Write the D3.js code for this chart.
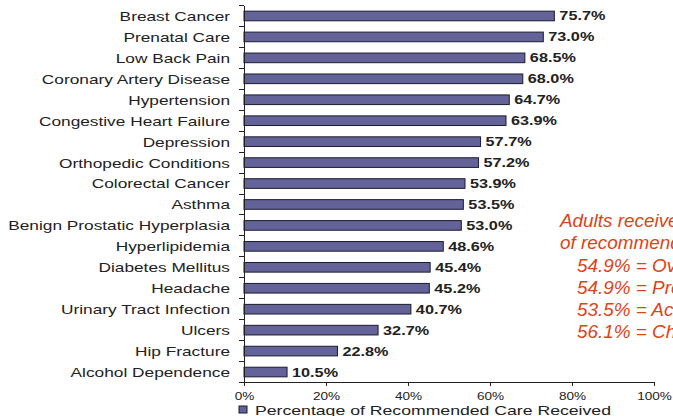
<!DOCTYPE html>
<html>
<head>
<meta charset="utf-8">
<script src="https://cdn.jsdelivr.net/npm/d3@7"></script>
<style>
  html, body { margin: 0; padding: 0; background: #ffffff; overflow: hidden; }
  svg { display: block; font-family: "Liberation Sans", Arial, sans-serif; }
</style>
</head>
<body>
<svg id="chart" width="673" height="416"></svg>
<script>
// Conditions, ordered top to bottom
const categories = [
  "Breast Cancer", "Prenatal Care", "Low Back Pain", "Coronary Artery Disease",
  "Hypertension", "Congestive Heart Failure", "Depression", "Orthopedic Conditions",
  "Colorectal Cancer", "Asthma", "Benign Prostatic Hyperplasia", "Hyperlipidemia",
  "Diabetes Mellitus", "Headache", "Urinary Tract Infection", "Ulcers",
  "Hip Fracture", "Alcohol Dependence"
];
// Percentage of recommended care received
const values = [75.7, 73.0, 68.5, 68.0, 64.7, 63.9, 57.7, 57.2, 53.9, 53.5, 53.0,
                48.6, 45.4, 45.2, 40.7, 32.7, 22.8, 10.5];
const xTickValues = [0, 20, 40, 60, 80, 100];
const seriesName = "Percentage of Recommended Care Received";
const noteLines = [
  "Adults receive about half",
  "of recommended care:",
  "54.9% = Overall",
  "54.9% = Preventive care",
  "53.5% = Acute care",
  "56.1% = Chronic care"
];

const SX = 1.33;            // horizontal text stretch of the chart labels
const barFill = "#636399";
const barStroke = "#1b1b2e";
const textColor = "#222222";
const noteColor = "#da4417";

const svg = d3.select("#chart");
const plotLeft = 244, plotRight = 654, plotTop = 5, plotBottom = 382;

const x = d3.scaleLinear().domain([0, 100]).range([plotLeft, plotRight]);
const y = d3.scaleBand().domain(categories).range([plotTop, plotBottom]).paddingInner(0.54).paddingOuter(0.27);
const yEdges = d3.scaleLinear().domain([0, categories.length]).range([plotTop, plotBottom]);
const rows = categories.map((c, i) => ({ c, v: values[i] }));

// Bars
svg.append("g").selectAll("rect")
  .data(rows)
  .join("rect")
  .attr("x", x(0))
  .attr("y", d => y(d.c) + 0.5)
  .attr("width", d => x(d.v) - x(0))
  .attr("height", y.bandwidth())
  .attr("fill", barFill)
  .attr("stroke", barStroke)
  .attr("stroke-width", 1);

// Value labels
svg.append("g").selectAll("text")
  .data(rows)
  .join("text")
  .attr("transform", d => `translate(${x(d.v) + 5},${y(d.c) + y.bandwidth() / 2 + 0.5}) scale(${SX - 0.03},1)`)
  .attr("dy", "0.36em")
  .attr("font-size", 12.5)
  .attr("font-weight", "bold")
  .attr("fill", textColor)
  .text(d => d.v.toFixed(1) + "%");

// Y axis: line and tick marks at band edges
const yAxisG = svg.append("g")
  .attr("transform", `translate(${plotLeft},0)`)
  .call(d3.axisLeft(yEdges).tickValues(d3.range(categories.length + 1)).tickFormat("").tickSize(5).tickSizeOuter(0));
yAxisG.selectAll("line, path").attr("stroke", "#222").attr("shape-rendering", "crispEdges");

// Y axis: category labels
const yLabelG = svg.append("g")
  .attr("transform", `translate(${plotLeft},0)`)
  .call(d3.axisLeft(y).tickSize(0).tickPadding(14));
yLabelG.select(".domain").remove();
yLabelG.selectAll("text")
  .attr("font-size", 13)
  .attr("font-family", "'Liberation Sans', Arial, sans-serif")
  .attr("fill", textColor)
  .attr("x", -14 / SX)
  .attr("dy", "0.42em")
  .attr("transform", `scale(${SX},1)`);

// X axis
const xAxisG = svg.append("g")
  .attr("transform", `translate(0,${plotBottom})`)
  .call(d3.axisBottom(x).tickValues(xTickValues).tickFormat(d => d + "%").tickSize(4).tickSizeOuter(0).tickPadding(7));
xAxisG.selectAll("line, path").attr("stroke", "#222").attr("shape-rendering", "crispEdges");
xAxisG.selectAll("text")
  .attr("font-size", 10.2)
  .attr("font-family", "'Liberation Sans', Arial, sans-serif")
  .attr("fill", textColor)
  .each(function () {
    const t = d3.select(this);
    const yy = +t.attr("y");
    t.attr("y", null).attr("transform", `translate(0,${yy}) scale(${SX},1)`);
  });

// Legend
const legend = svg.append("g").attr("transform", "translate(239,406)");
legend.append("rect")
  .attr("width", 8).attr("height", 7)
  .attr("fill", barFill).attr("stroke", barStroke).attr("stroke-width", 1);
legend.append("text")
  .attr("transform", "translate(16,8.5) scale(1.38,1)")
  .attr("font-size", 12.8)
  .attr("fill", textColor)
  .text(seriesName);

// Summary note
const note = svg.append("g").attr("fill", noteColor).attr("font-style", "italic").attr("font-size", 18);
const noteX = [560, 560, 577, 577, 577, 577];
const noteY = [227, 249, 272, 294, 316, 338];
note.selectAll("text")
  .data(noteLines)
  .join("text")
  .attr("transform", (d, i) => `translate(${noteX[i]},${noteY[i]}) scale(1.05,1)`)
  .text(d => d);
</script>
</body>
</html>
